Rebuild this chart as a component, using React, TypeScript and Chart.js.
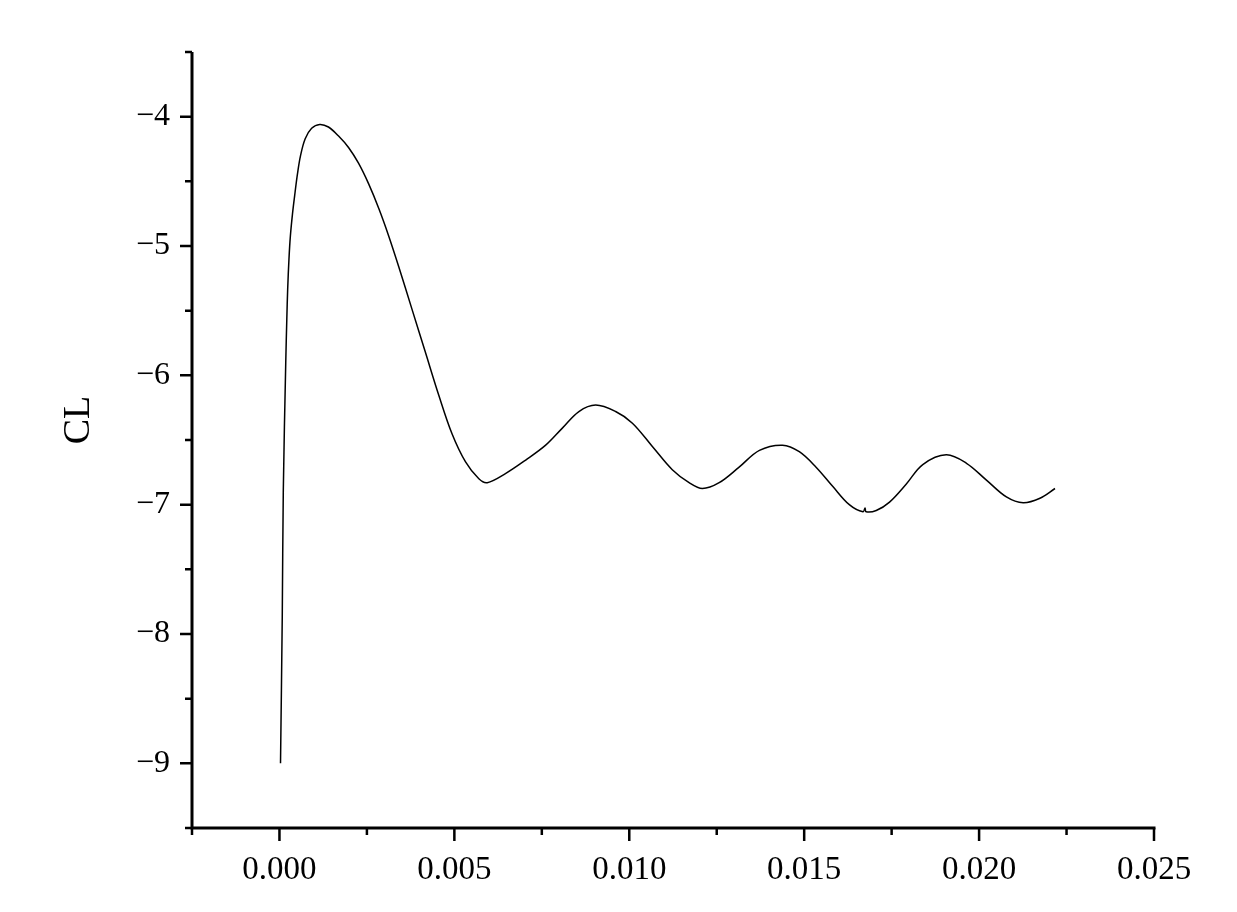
import React, { useEffect, useRef } from 'react';
import { Chart, registerables } from 'chart.js';

Chart.register(...registerables);

// Time values (x axis)
const timeValues = [
  0.00003, 0.00008, 0.00011, 0.00018, 0.00021, 0.000235, 0.000272, 0.000312, 0.000372, 0.000444,
  0.000515, 0.000601, 0.000736, 0.00092,
  0.00115, 0.0014, 0.00169, 0.00198, 0.00226, 0.00255, 0.00284, 0.00312, 0.00341, 0.00379,
  0.00417, 0.00455, 0.00493, 0.00532, 0.0057, 0.00594, 0.00646, 0.00704, 0.00761, 0.00808,
  0.00856, 0.00904, 0.00961, 0.01009, 0.01066, 0.01123, 0.01171, 0.01209, 0.01257, 0.01314,
  0.01372, 0.01438, 0.01486, 0.01534, 0.01582, 0.01629, 0.01668, 0.01674, 0.01677, 0.01706,
  0.01744, 0.01792, 0.01839, 0.01906, 0.01964, 0.02021, 0.02078, 0.02126, 0.02174, 0.02217,
];

// Lift coefficient values (y axis)
const clValues = [
  -9.0, -7.87, -6.89, -5.9, -5.568, -5.335, -5.1, -4.924, -4.753, -4.59,
  -4.443, -4.303, -4.171, -4.09,
  -4.06, -4.08, -4.15, -4.24, -4.36, -4.52, -4.71, -4.92, -5.16, -5.49,
  -5.82, -6.15, -6.45, -6.67, -6.8, -6.83, -6.76, -6.655, -6.54, -6.41,
  -6.28, -6.23, -6.28, -6.37, -6.55, -6.73, -6.83, -6.875, -6.83, -6.71,
  -6.58, -6.54, -6.59, -6.71, -6.86, -7.0, -7.055, -7.025, -7.055, -7.045,
  -6.98, -6.84, -6.69, -6.615, -6.68, -6.81, -6.94, -6.985, -6.95, -6.875,
];

// Tick values (majors labelled, minors unlabelled)
const xTickValues = [-0.0025, 0, 0.0025, 0.005, 0.0075, 0.01, 0.0125, 0.015, 0.0175, 0.02, 0.0225, 0.025];
const yTickValues = [-9.5, -9, -8.5, -8, -7.5, -7, -6.5, -6, -5.5, -5, -4.5, -4, -3.5];
const xMajorStep = 0.005;
const yMajorStep = 1;
const yAxisTitle = 'CL';

const FONT = '"Liberation Serif", "DejaVu Serif", serif';

const isMajor = (v: number, step: number) => Math.abs(v / step - Math.round(v / step)) < 1e-6;

const axesPlugin = {
  id: 'originAxes',
  afterDraw(chart: any) {
    const { ctx, chartArea, scales } = chart;
    const xs = scales.x;
    const ys = scales.y;
    const left = chartArea.left;
    const bottom = chartArea.bottom;
    ctx.save();
    ctx.strokeStyle = '#000';
    ctx.lineWidth = 3;
    ctx.lineCap = 'butt';
    // axis lines
    ctx.beginPath();
    ctx.moveTo(left, chartArea.top);
    ctx.lineTo(left, bottom + 1.5);
    ctx.moveTo(left - 1.5, bottom);
    ctx.lineTo(chartArea.right + 1.5, bottom);
    ctx.stroke();
    // y ticks
    ctx.lineWidth = 2.5;
    ctx.beginPath();
    yTickValues.forEach((v) => {
      const py = ys.getPixelForValue(v);
      const len = isMajor(v, yMajorStep) ? 12 : 7;
      ctx.moveTo(left - len, py);
      ctx.lineTo(left, py);
    });
    // x ticks
    xTickValues.forEach((v) => {
      const px = xs.getPixelForValue(v);
      const len = isMajor(v, xMajorStep) ? 13 : 7;
      ctx.moveTo(px, bottom);
      ctx.lineTo(px, bottom + len);
    });
    ctx.stroke();
    // y axis title
    ctx.fillStyle = '#000';
    ctx.font = `38px ${FONT}`;
    ctx.textAlign = 'center';
    ctx.textBaseline = 'middle';
    ctx.translate(79, 420);
    ctx.rotate(-Math.PI / 2);
    ctx.fillText(yAxisTitle, 0, 0);
    ctx.restore();
  },
};

export default function App() {
  const canvasRef = useRef<HTMLCanvasElement | null>(null);

  useEffect(() => {
    if (!canvasRef.current) return;
    const points = timeValues.map((x, i) => ({ x, y: clValues[i] }));
    const chart = new Chart(canvasRef.current, {
      type: 'line',
      data: {
        datasets: [
          {
            label: yAxisTitle,
            data: points,
            borderColor: '#000',
            borderWidth: 1.5,
            pointRadius: 0,
            fill: false,
            tension: 0.35,
          },
        ],
      },
      options: {
        animation: false,
        responsive: true,
        maintainAspectRatio: false,
        layout: { padding: { top: 52, right: 83, left: 0, bottom: 0 } },
        plugins: { legend: { display: false }, tooltip: { enabled: false } },
        scales: {
          x: {
            type: 'linear',
            min: -0.0025,
            max: 0.025,
            grid: { display: false, drawTicks: false },
            border: { display: false },
            afterBuildTicks: (scale: any) => {
              scale.ticks = xTickValues.map((v) => ({ value: v }));
            },
            afterFit: (scale: any) => {
              scale.height = 84;
            },
            ticks: {
              autoSkip: false,
              maxRotation: 0,
              padding: 23,
              color: '#000',
              font: { family: FONT, size: 33 },
              callback: (value: any) => (isMajor(Number(value), xMajorStep) ? Number(value).toFixed(3) : ''),
            },
          },
          y: {
            type: 'linear',
            min: -9.5,
            max: -3.5,
            grid: { display: false, drawTicks: false },
            border: { display: false },
            afterBuildTicks: (scale: any) => {
              scale.ticks = yTickValues.map((v) => ({ value: v }));
            },
            afterFit: (scale: any) => {
              scale.width = 192;
            },
            ticks: {
              autoSkip: false,
              padding: 22,
              color: '#000',
              font: { family: FONT, size: 32 },
              callback: (value: any) => {
                const v = Number(value);
                if (!isMajor(v, yMajorStep)) return '';
                const r = Math.round(v);
                return r < 0 ? '\u2212' + Math.abs(r) : String(r);
              },
            },
          },
        },
      },
      plugins: [axesPlugin],
    });
    return () => chart.destroy();
  }, []);

  return (
    <div style={{ position: 'absolute', left: 0, top: 0, width: 1237, height: 912, background: '#fff' }}>
      <canvas ref={canvasRef} />
    </div>
  );
}
